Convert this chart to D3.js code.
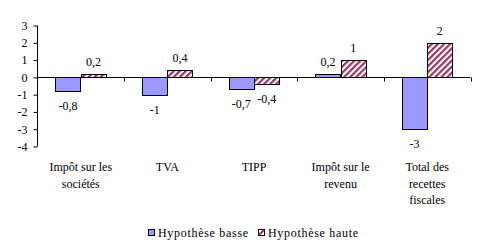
<!DOCTYPE html>
<html>
<head>
<meta charset="utf-8">
<script src="https://cdn.jsdelivr.net/npm/d3@7"></script>
<style>
  body { margin: 0; background: #fff; }
  svg text { font-family: "Times New Roman", "Liberation Serif", "DejaVu Serif", serif; font-size: 12px; fill: #000; }
</style>
</head>
<body>
<svg id="chart" width="485" height="251"></svg>
<script>
(function () {
    'use strict';

    var categories = [["Impôt sur les", "sociétés"], ["TVA"], ["TIPP"], ["Impôt sur le", "revenu"], ["Total des", "recettes", "fiscales"]];
    var seriesNames = ["Hypothèse basse", "Hypothèse haute"];
    var basse = [-0.8, -1, -0.7, 0.2, -3];
    var haute = [0.2, 0.4, -0.4, 1, 2];
    var yTicks = [3, 2, 1, 0, -1, -2, -3, -4];

    var serif = "'Times New Roman', 'Liberation Serif', 'DejaVu Serif', serif";
    var svg = d3.select("#chart");

    var defs = svg.append("defs");
    var pat = defs.append("pattern")
        .attr("id", "hatch")
        .attr("patternUnits", "userSpaceOnUse")
        .attr("width", 4.3)
        .attr("height", 4.3)
        .attr("patternTransform", "rotate(45)");
    pat.append("rect").attr("width", 4.3).attr("height", 4.3).style("fill", "#fff");
    pat.append("rect").attr("x", 0).attr("y", 0).attr("width", 2.2).attr("height", 4.3).style("fill", "#993366");

    var x0 = d3.scaleBand().domain(d3.range(categories.length)).range([37.5, 470.5]);
    var x1 = d3.scaleBand().domain([0, 1]).range([0, x0.bandwidth()]).paddingOuter(0.71).paddingInner(0);
    var y = d3.scaleLinear().domain([-4, 3]).range([146.5, 25.5]);

    var fills = ["#9999ff", "url(#hatch)"];
    var series = [basse, haute];

    // bars
    series.forEach(function (vals, s) {
        svg.append("g").selectAll("rect")
            .data(vals)
            .enter()
            .append("rect")
            .attr("x", function (d, i) { return Math.round(x0(i) + x1(s)) + 0.5; })
            .attr("y", function (d) { return Math.round(y(Math.max(0, d))) + 0.5; })
            .attr("width", Math.round(x1.bandwidth()))
            .attr("height", function (d) { return Math.abs(Math.round(y(d)) - Math.round(y(0))); })
            .style("fill", fills[s])
            .style("stroke", "#000")
            .style("stroke-width", "1px");

        svg.append("g").selectAll("text")
            .data(vals)
            .enter()
            .append("text")
            .attr("x", function (d, i) { return x0(i) + x1(s) + x1.bandwidth() / 2; })
            .attr("y", function (d) { return d >= 0 ? y(d) - 8 : y(d) + 19; })
            .attr("text-anchor", "middle")
            .text(function (d) { return String(d).replace(".", ","); });
    });

    // y axis
    var yAxis = d3.axisLeft(y).tickValues(yTicks).tickSize(4).tickFormat(function (d) { return d; });
    var gy = svg.append("g").attr("transform", "translate(37.5,0)").call(yAxis)
        .attr("font-family", serif).attr("font-size", 12);
    gy.select(".domain").attr("d", "M0," + y(3) + "V" + y(-4)).style("stroke", "#000");
    gy.selectAll(".tick line").style("stroke", "#000");
    gy.selectAll(".tick text").attr("x", -10);

    // zero line with category ticks
    var y0 = Math.round(y(0)) + 0.5;
    svg.append("line")
        .attr("x1", 37.5).attr("x2", 470.5)
        .attr("y1", y0).attr("y2", y0)
        .style("stroke", "#000");
    svg.append("g").selectAll("line")
        .data(d3.range(1, categories.length + 1))
        .enter()
        .append("line")
        .attr("x1", function (d) { return Math.round(x0(d - 1) + x0.step()) + 0.5; })
        .attr("x2", function (d) { return Math.round(x0(d - 1) + x0.step()) + 0.5; })
        .attr("y1", y0).attr("y2", y0 + 4)
        .style("stroke", "#000");

    // category labels
    var cat = svg.append("g").selectAll("text")
        .data(categories)
        .enter()
        .append("text")
        .attr("text-anchor", "middle")
        .attr("y", 171);
    cat.selectAll("tspan")
        .data(function (d, i) { return d.map(function (t) { return { t: t, i: i }; }); })
        .enter()
        .append("tspan")
        .attr("x", function (d) { return x0(d.i) + x0.bandwidth() / 2; })
        .attr("dy", function (d, j) { return j === 0 ? 0 : 16.5; })
        .text(function (d) { return d.t; });

    // legend
    var legX = [148, 258];
    var leg = svg.append("g").selectAll("g")
        .data(seriesNames)
        .enter()
        .append("g")
        .attr("transform", function (d, i) { return "translate(" + legX[i] + ",229)"; });
    leg.append("rect")
        .attr("x", 0.5).attr("y", 0.5)
        .attr("width", 6).attr("height", 6)
        .style("fill", function (d, i) { return i === 0 ? "#9999ff" : "#fff"; })
        .style("stroke", "#000");
    leg.filter(function (d, i) { return i === 1; })
        .append("line")
        .attr("x1", 1).attr("y1", 6).attr("x2", 6).attr("y2", 1)
        .style("stroke", "#993366").style("stroke-width", "2px");
    leg.append("text")
        .attr("x", 10)
        .attr("y", 8)
        .style("letter-spacing", "0.7px")
        .text(function (d) { return d; });
}());
</script>
</body>
</html>
